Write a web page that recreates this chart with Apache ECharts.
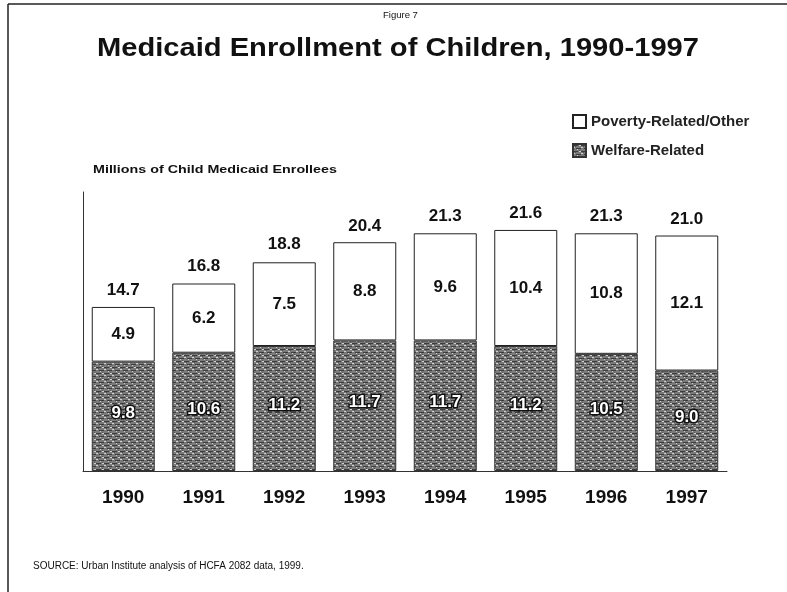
<!DOCTYPE html>
<html>
<head>
<meta charset="utf-8">
<title>Medicaid Enrollment of Children, 1990-1997</title>
<script src="https://cdn.jsdelivr.net/npm/echarts@6/dist/echarts.min.js"></script>
<style>
  html, body { margin: 0; padding: 0; background: #fff; }
  #chart { width: 787px; height: 592px; }
</style>
</head>
<body>
<div id="chart"></div>
<script>
// data
const years = ['1990', '1991', '1992', '1993', '1994', '1995', '1996', '1997'];
const welfare = [9.8, 10.6, 11.2, 11.7, 11.7, 11.2, 10.5, 9.0];
const poverty = [4.9, 6.2, 7.5, 8.8, 9.6, 10.4, 10.8, 12.1];
const totals = [14.7, 16.8, 18.8, 20.4, 21.3, 21.6, 21.3, 21.0];

const FONT = '"Liberation Sans", Arial, sans-serif';

// grey speckled fill, like the scanned halftone
function makePattern() {
  const c = document.createElement('canvas');
  c.width = 8; c.height = 6;
  const ctx = c.getContext('2d');
  ctx.fillStyle = '#7a7a7a';
  ctx.fillRect(0, 0, 8, 6);
  ctx.fillStyle = '#3c3c3c';
  ctx.fillRect(0, 1, 5, 1);
  ctx.fillRect(3, 4, 5, 1);
  ctx.fillStyle = '#d0d0d0';
  ctx.fillRect(6, 1, 2, 1);
  ctx.fillRect(0, 3, 2, 1);
  ctx.fillRect(4, 5, 1, 1);
  ctx.fillStyle = '#555';
  ctx.fillRect(2, 2, 1, 1);
  ctx.fillRect(6, 0, 1, 1);
  return c;
}
const welfareFill = { image: makePattern(), repeat: 'repeat' };

const chart = echarts.init(document.getElementById('chart'));
const option = {
  animation: false,
  backgroundColor: '#fff',
  grid: { left: 83, right: 60, top: 192, bottom: 121 },
  legend: {
    orient: 'vertical',
    left: 567,
    top: 109,
    itemGap: 14,
    itemWidth: 13,
    itemHeight: 13,
    icon: 'rect',
    data: ['Poverty-Related/Other', 'Welfare-Related'],
    textStyle: { fontFamily: FONT, fontSize: 15, fontWeight: 'bold', color: '#222' }
  },
  xAxis: {
    type: 'category',
    data: years,
    axisLine: { lineStyle: { color: '#333', width: 1 } },
    axisTick: { show: false },
    axisLabel: { fontFamily: FONT, fontSize: 19, fontWeight: 'bold', color: '#111', margin: 17 }
  },
  yAxis: {
    type: 'value',
    min: 0,
    max: 25,
    axisLine: { show: true, lineStyle: { color: '#333', width: 1 } },
    axisTick: { show: false },
    axisLabel: { show: false },
    splitLine: { show: false }
  },
  series: [
    {
      name: 'Welfare-Related',
      type: 'bar',
      stack: 'kids',
      barWidth: 63,
      data: welfare,
      itemStyle: { color: welfareFill, borderColor: '#333', borderWidth: 1 },
      label: {
        show: true,
        position: 'inside',
        offset: [0, -3],
        formatter: p => p.value.toFixed(1),
        fontFamily: FONT, fontSize: 17, fontWeight: 'bold',
        color: '#fff', textBorderColor: '#111', textBorderWidth: 3
      }
    },
    {
      name: 'Poverty-Related/Other',
      type: 'bar',
      stack: 'kids',
      data: poverty,
      itemStyle: { color: '#fff', borderColor: '#222', borderWidth: 1 },
      label: {
        show: true,
        position: 'inside',
        formatter: p => p.value.toFixed(1),
        fontFamily: FONT, fontSize: 17, fontWeight: 'bold', color: '#111'
      }
    },
    {
      // totals printed above each bar
      name: 'Total',
      type: 'scatter',
      data: totals,
      symbolSize: 1,
      itemStyle: { color: 'rgba(0,0,0,0)', opacity: 1 },
      label: {
        show: true,
        position: 'top',
        distance: 8,
        opacity: 1,
        formatter: p => p.value.toFixed(1),
        fontFamily: FONT, fontSize: 17, fontWeight: 'bold', color: '#111'
      },
      silent: true
    }
  ],
  graphic: [
    // scanned page frame
    { type: 'line', shape: { x1: 8, y1: 4, x2: 787, y2: 4 }, style: { stroke: '#222', lineWidth: 1.5 } },
    { type: 'line', shape: { x1: 8, y1: 4, x2: 8, y2: 592 }, style: { stroke: '#222', lineWidth: 1.5 } },
    { type: 'text', left: 383, top: 10, style: { text: 'Figure 7', font: '9.5px ' + FONT, fill: '#111' } },
    { type: 'text', x: 97, y: 36, scaleX: 1.12, style: { text: 'Medicaid Enrollment of Children, 1990-1997', font: 'bold 26px ' + FONT, fill: '#111' } },
    { type: 'text', x: 93, y: 164, scaleX: 1.3, style: { text: 'Millions of Child Medicaid Enrollees', font: 'bold 11px ' + FONT, fill: '#111' } },
    { type: 'text', left: 33, top: 561, style: { text: 'SOURCE: Urban Institute analysis of HCFA 2082 data, 1999.', font: '10px ' + FONT, fill: '#111' } }
  ]
};
chart.setOption(option);
window.addEventListener('resize', function () {
  chart.resize();
});
</script>
</body>
</html>
